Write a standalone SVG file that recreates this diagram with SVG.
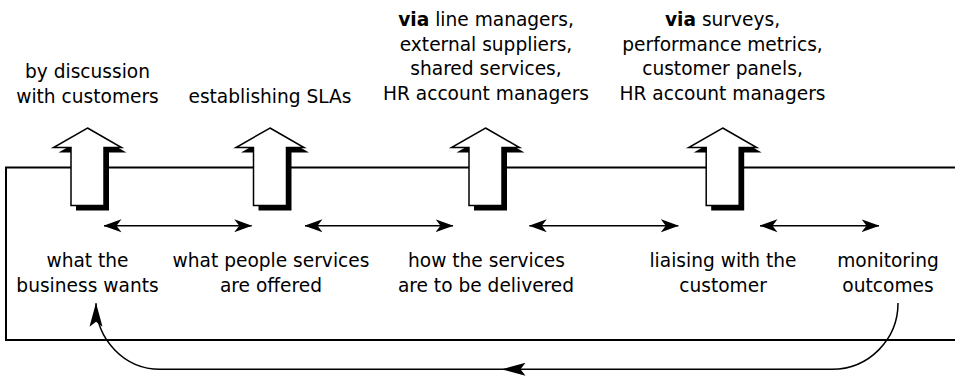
<svg xmlns="http://www.w3.org/2000/svg" width="955" height="378" viewBox="0 0 955 378">
<style>
.t{font-family:"DejaVu Sans",Verdana,sans-serif;font-size:18.6px;fill:#000;text-anchor:middle}
.b{font-weight:bold}
.frame{fill:none;stroke:#000;stroke-width:2}
.con{fill:none;stroke:#000;stroke-width:1.5}
.sh{fill:#000}
.bo{fill:#fff;stroke:#000;stroke-width:1.5;stroke-linejoin:miter}
</style>
<defs>
<path id="blk" d="M0,128 L34,147.5 L16.5,147.5 L16.5,205.5 L-16.5,205.5 L-16.5,147.5 L-34,147.5 Z"/>
<marker id="ah" markerUnits="userSpaceOnUse" viewBox="0 0 18 14" markerWidth="18" markerHeight="14" refX="17.5" refY="7" orient="auto-start-reverse">
<path d="M0,0.5 L18,7 L0,13.5 L5,7 Z" fill="#000"/>
</marker>
<marker id="ah2" markerUnits="userSpaceOnUse" viewBox="0 0 24 14" markerWidth="24" markerHeight="14" refX="23.5" refY="7" orient="auto">
<path d="M0,0.5 L24,7 L0,13.5 L5,7 Z" fill="#000"/>
</marker>
</defs>

<g id="frame">
<path class="frame" d="M955,167.5 H6 V340 H955"/>
</g>

<g id="connectors">
<line class="con" x1="104" y1="225.7" x2="251.7" y2="225.7" marker-start="url(#ah)" marker-end="url(#ah)"/>
<line class="con" x1="305" y1="225.7" x2="453" y2="225.7" marker-start="url(#ah)" marker-end="url(#ah)"/>
<line class="con" x1="529.3" y1="225.7" x2="678.3" y2="225.7" marker-start="url(#ah)" marker-end="url(#ah)"/>
<line class="con" x1="760" y1="225.7" x2="879" y2="225.7" marker-start="url(#ah)" marker-end="url(#ah)"/>
<path class="con" d="M898,303 A66,66 0 0 1 832,369.3 L502,369.3" marker-end="url(#ah2)"/>
<path class="con" d="M502,369.3 L160,369.3 A64,66 0 0 1 96,303.3" marker-end="url(#ah2)"/>
</g>

<g id="node-business">
<use href="#blk" class="sh" transform="translate(92.5,5)"/>
<use href="#blk" class="bo" transform="translate(87.5,0)"/>
<text class="t" x="87.5" y="78">by discussion</text>
<text class="t" x="87.5" y="102.5">with customers</text>
<text class="t" x="87.5" y="266.7">what the</text>
<text class="t" x="87.5" y="291.7">business wants</text>
</g>

<g id="node-offered">
<use href="#blk" class="sh" transform="translate(275,5)"/>
<use href="#blk" class="bo" transform="translate(270,0)"/>
<text class="t" x="270" y="102.5">establishing SLAs</text>
<text class="t" x="271" y="266.7">what people services</text>
<text class="t" x="271" y="291.7">are offered</text>
</g>

<g id="node-delivered">
<use href="#blk" class="sh" transform="translate(490.5,5)"/>
<use href="#blk" class="bo" transform="translate(485.5,0)"/>
<text class="t" x="486" y="26"><tspan class="b">via</tspan> line managers,</text>
<text class="t" x="486" y="50.5">external suppliers,</text>
<text class="t" x="486" y="75">shared services,</text>
<text class="t" x="486" y="99.5">HR account managers</text>
<text class="t" x="486.5" y="266.7">how the services</text>
<text class="t" x="486" y="291.7">are to be delivered</text>
</g>

<g id="node-liaising">
<use href="#blk" class="sh" transform="translate(727.7,5)"/>
<use href="#blk" class="bo" transform="translate(722.7,0)"/>
<text class="t" x="722.5" y="26"><tspan class="b">via</tspan> surveys,</text>
<text class="t" x="722.5" y="50.5">performance metrics,</text>
<text class="t" x="722.5" y="75">customer panels,</text>
<text class="t" x="722.5" y="99.5">HR account managers</text>
<text class="t" x="723" y="266.7">liaising with the</text>
<text class="t" x="723" y="291.7">customer</text>
</g>

<g id="node-monitoring">
<text class="t" x="888" y="266.7">monitoring</text>
<text class="t" x="888" y="291.7">outcomes</text>
</g>
</svg>
